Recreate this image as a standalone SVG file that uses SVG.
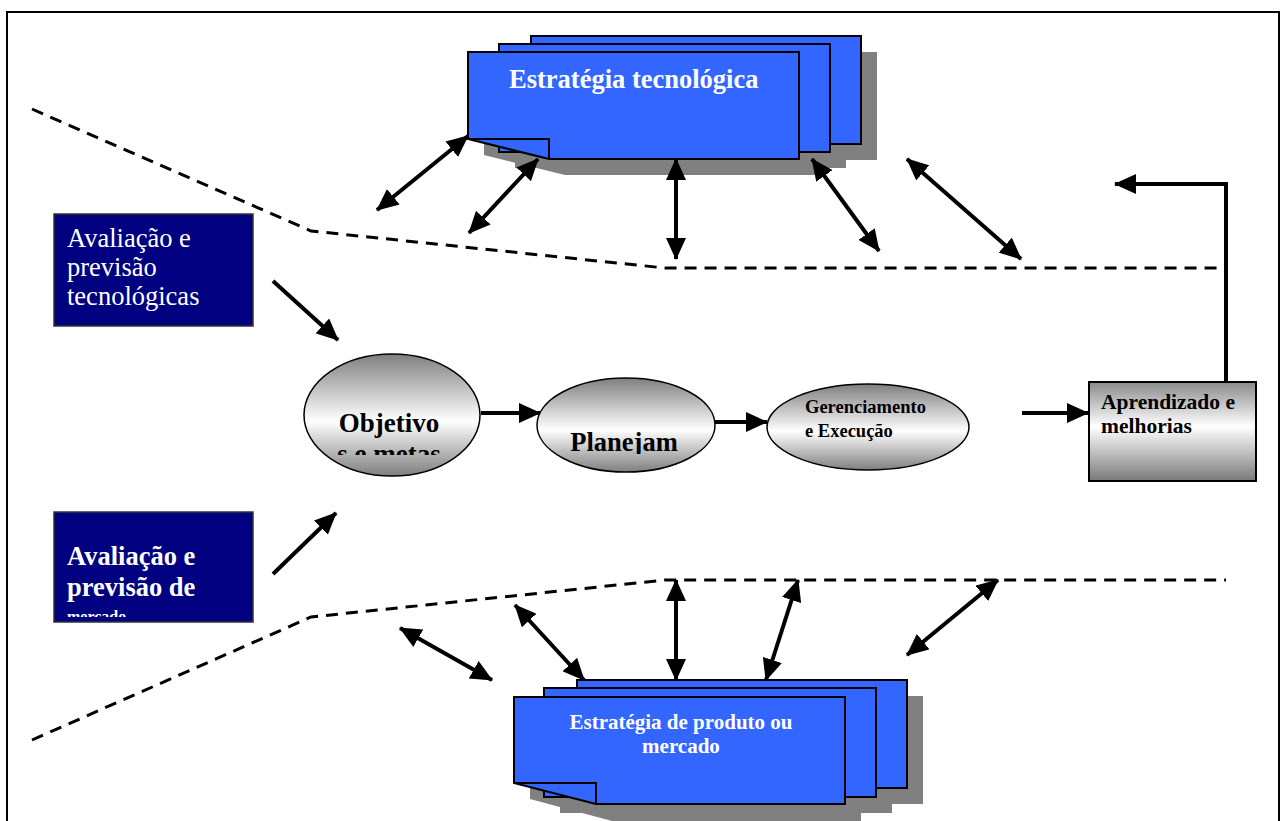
<svg xmlns="http://www.w3.org/2000/svg" width="1281" height="821" viewBox="0 0 1281 821">
  <style>
    .page { fill: #3366ff; stroke: #000; stroke-width: 2; stroke-linejoin: miter; }
    .shadow { fill: #808080; stroke: none; }
    .navy { fill: #000080; stroke: #333; stroke-width: 1.5; }
    .oval { fill: url(#greyBand); stroke: #000; stroke-width: 1.5; }
    .link { stroke: #000; stroke-width: 4; fill: none; }
    .dash { stroke: #000; stroke-width: 3; fill: none; stroke-dasharray: 12 8; }
    .serif { font-family: "Liberation Serif", "Times New Roman", serif; }
    .bold { font-weight: bold; }
    .white { fill: #fff; }
    .black { fill: #000; }
  </style>
  <defs>
    <linearGradient id="greyBand" x1="0" y1="0" x2="0" y2="1">
      <stop offset="0" stop-color="#7f7f7f"/>
      <stop offset="0.55" stop-color="#ffffff"/>
      <stop offset="1" stop-color="#7f7f7f"/>
    </linearGradient>
    <linearGradient id="boxBand" x1="0" y1="0" x2="0" y2="1">
      <stop offset="0" stop-color="#8a8a8a"/>
      <stop offset="0.45" stop-color="#ffffff"/>
      <stop offset="1" stop-color="#7a7a7a"/>
    </linearGradient>
    <marker id="head" viewBox="0 0 22 20" refX="21" refY="10" markerWidth="22" markerHeight="20" markerUnits="userSpaceOnUse" orient="auto-start-reverse">
      <path d="M0,0 L22,10 L0,20 Z" fill="#000"/>
    </marker>
    <clipPath id="clipObj"><rect x="300" y="380" width="180" height="75"/></clipPath>
    <clipPath id="clipPlan"><rect x="540" y="400" width="170" height="54"/></clipPath>
    <clipPath id="clipMerc"><rect x="55" y="520" width="196" height="97"/></clipPath>
  </defs>

  <!-- outer frame (open at the bottom) -->
  <path d="M7,821 V12 H1279 V821" fill="none" stroke="#000" stroke-width="2"/>

  <!-- dashed boundaries -->
  <g id="boundaries">
    <polyline class="dash" points="32,109 311,231 665,268 1226,268"/>
    <polyline class="dash" points="32,740 311,617 665,580 1226,580"/>
  </g>

  <!-- technology strategy stack -->
  <g id="estrategia-tecnologica">
    <rect class="shadow" x="547" y="52" width="330" height="108"/>
    <rect class="shadow" x="515" y="60" width="331" height="108"/>
    <polygon class="shadow" points="484,68 815,68 815,175 565,175 484,155"/>
    <rect class="page" x="531" y="36" width="330" height="108"/>
    <rect class="page" x="499" y="44" width="331" height="108"/>
    <polygon class="page" points="468,52 799,52 799,159 549,159 468,139"/>
    <polyline points="468,139 549,139 549,159" fill="none" stroke="#000" stroke-width="2"/>
    <text class="serif bold white" x="509" y="88" font-size="26.5">Estratégia tecnológica</text>
  </g>

  <!-- product / market strategy stack -->
  <g id="estrategia-produto">
    <rect class="shadow" x="593" y="696" width="330" height="108"/>
    <rect class="shadow" x="560" y="704" width="332" height="109"/>
    <polygon class="shadow" points="530,713 861,713 861,821 612,821 530,799"/>
    <rect class="page" x="577" y="680" width="330" height="108"/>
    <rect class="page" x="544" y="688" width="332" height="109"/>
    <polygon class="page" points="514,697 845,697 845,804 596,804 514,783"/>
    <polyline points="514,783 596,783 596,804" fill="none" stroke="#000" stroke-width="2"/>
    <text class="serif bold white" x="681" y="729" font-size="21" text-anchor="middle">Estratégia de produto ou</text>
    <text class="serif bold white" x="681" y="753" font-size="21" text-anchor="middle">mercado</text>
  </g>

  <!-- technology assessment -->
  <g id="avaliacao-tecnologica">
    <rect class="navy" x="54" y="214" width="199" height="112"/>
    <text class="serif white" x="67" y="247" font-size="26.5">Avaliação e</text>
    <text class="serif white" x="67" y="276" font-size="26.5">previsão</text>
    <text class="serif white" x="67" y="305" font-size="26.5">tecnológicas</text>
  </g>

  <!-- market assessment -->
  <g id="avaliacao-mercado">
    <rect class="navy" x="54" y="512" width="199" height="110"/>
    <g clip-path="url(#clipMerc)">
      <text class="serif bold white" x="67" y="565" font-size="26.5">Avaliação e</text>
      <text class="serif bold white" x="67" y="596" font-size="26.5">previsão de</text>
      <text class="serif bold white" x="67" y="622" font-size="16">mercado</text>
    </g>
  </g>

  <!-- goals -->
  <g id="objetivos">
    <ellipse class="oval" cx="392" cy="415" rx="88" ry="61"/>
    <g clip-path="url(#clipObj)">
      <text class="serif bold black" x="389" y="432" font-size="27" text-anchor="middle">Objetivo</text>
      <text class="serif bold black" x="389" y="463" font-size="27" text-anchor="middle">s e metas</text>
    </g>
  </g>

  <!-- planning -->
  <g id="planejamento">
    <ellipse class="oval" cx="626" cy="425" rx="89" ry="47"/>
    <g clip-path="url(#clipPlan)">
      <text class="serif bold black" x="624" y="451" font-size="26.5" text-anchor="middle">Planejam</text>
    </g>
  </g>

  <!-- management and execution -->
  <g id="gerenciamento">
    <ellipse class="oval" cx="868" cy="427" rx="101" ry="43"/>
    <text class="serif bold black" x="805" y="413" font-size="18.5">Gerenciamento</text>
    <text class="serif bold black" x="805" y="437" font-size="18.5">e Execução</text>
  </g>

  <!-- learning -->
  <g id="aprendizado">
    <rect x="1089" y="382" width="167" height="99" fill="url(#boxBand)" stroke="#000" stroke-width="2"/>
    <text class="serif bold black" x="1101" y="409" font-size="21.5">Aprendizado e</text>
    <text class="serif bold black" x="1101" y="433" font-size="21.5">melhorias</text>
  </g>

  <!-- connectors -->
  <g id="connectors">
    <line class="link" x1="481" y1="413" x2="540" y2="413" marker-end="url(#head)"/>
    <line class="link" x1="715" y1="422" x2="767" y2="422" marker-end="url(#head)"/>
    <line class="link" x1="1022" y1="413" x2="1088" y2="413" marker-end="url(#head)"/>
    <polyline class="link" points="1226,382 1226,184 1115,184" marker-end="url(#head)"/>
    <line class="link" x1="273" y1="281" x2="338" y2="340" marker-end="url(#head)"/>
    <line class="link" x1="273" y1="574" x2="336" y2="513" marker-end="url(#head)"/>

    <!-- upper exchanges -->
    <line class="link" x1="377" y1="210" x2="468" y2="136" marker-start="url(#head)" marker-end="url(#head)"/>
    <line class="link" x1="469" y1="233" x2="538" y2="159" marker-start="url(#head)" marker-end="url(#head)"/>
    <line class="link" x1="676" y1="159" x2="676" y2="259" marker-start="url(#head)" marker-end="url(#head)"/>
    <line class="link" x1="812" y1="159" x2="879" y2="251" marker-start="url(#head)" marker-end="url(#head)"/>
    <line class="link" x1="907" y1="159" x2="1021" y2="259" marker-start="url(#head)" marker-end="url(#head)"/>

    <!-- lower exchanges -->
    <line class="link" x1="400" y1="628" x2="492" y2="680" marker-start="url(#head)" marker-end="url(#head)"/>
    <line class="link" x1="515" y1="605" x2="584" y2="680" marker-start="url(#head)" marker-end="url(#head)"/>
    <line class="link" x1="676" y1="580" x2="676" y2="680" marker-start="url(#head)" marker-end="url(#head)"/>
    <line class="link" x1="798" y1="580" x2="766" y2="680" marker-start="url(#head)" marker-end="url(#head)"/>
    <line class="link" x1="907" y1="655" x2="998" y2="580" marker-start="url(#head)" marker-end="url(#head)"/>
  </g>
</svg>
